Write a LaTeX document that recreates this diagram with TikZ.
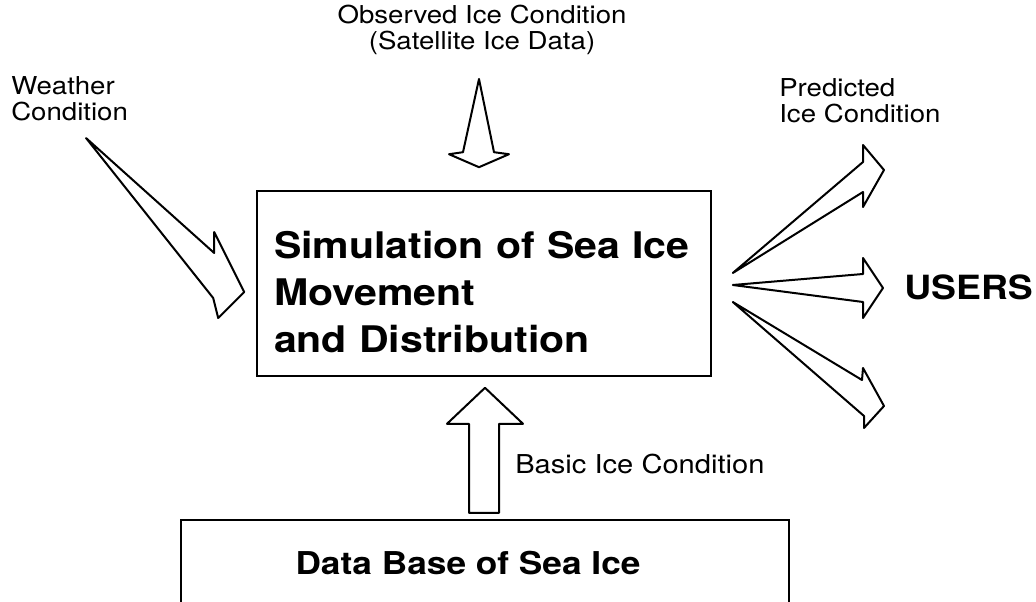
\documentclass[tikz,border=0pt]{standalone}
\usepackage{fontspec}
\setmainfont[FakeStretch=1.12]{TeX Gyre Heros}
\usetikzlibrary{calc}

\begin{document}
\begin{tikzpicture}[x=0.75pt,y=-0.75pt,
  boxline/.style={draw=black,line width=1.2pt},
  fat/.style={draw=black,fill=white,line width=1.5pt,line join=round},
  lbl/.style={inner sep=0pt,font=\fontsize{18.5pt}{19.5pt}\selectfont},
  simbox/.style={boxline,minimum width=340.5pt,minimum height=138.75pt,inner sep=0pt},
  simtext/.style={text width=315pt,align=left,inner sep=0pt,
    font=\fontsize{27.5pt}{35.25pt}\selectfont\bfseries}]
\useasboundingbox (0,0) rectangle (1036,602);

% boxes
\node[simbox] (sim) at (484,283.5) {};
\node[simtext] (simtext) at ($(sim.center)+(0,9)$) {Simulation of Sea Ice\\Movement\\and Distribution};
\draw[boxline] (181,615) |- (789,520) -- (789,615);
\node[inner sep=0pt,font=\fontsize{23.6pt}{28pt}\selectfont\bfseries] (db) at (468,563) {Data Base of Sea Ice};

% labels
\node[lbl,align=center] (obs) at (482,30) {Observed Ice Condition\\(Satellite Ice Data)};
\node[lbl,align=left,anchor=west] (weather) at (11,99) {Weather\\Condition};
\node[lbl,align=left,anchor=west] (pred) at (779,101) {Predicted\\Ice Condition};
\node[lbl,anchor=west,font=\fontsize{19.5pt}{20pt}\selectfont] (basic) at (515,464) {Basic Ice Condition};
\node[inner sep=0pt,anchor=west,font=\fontsize{25pt}{28pt}\selectfont\bfseries] (users) at (904,287) {USERS};

% arrow ends
\coordinate (obstail) at (479,79);
\coordinate (obstip) at ($(sim.north)+(-5,-23)$);
\coordinate (wtail) at (86,138);
\coordinate (wtip) at ($(sim.west)+(-12,8.5)$);
\coordinate (btip) at ($(sim.south)+(1,11)$);
\coordinate (u1tail) at ($(sim.east)+(21,-10.5)$);
\coordinate (u2tail) at ($(sim.east)+(21,1.5)$);
\coordinate (u3tail) at ($(sim.east)+(21,18.5)$);
\coordinate (u1tip) at (884,170);
\coordinate (u2tip) at (883,288);
\coordinate (u3tip) at (884,406);

% observed ice -> simulation
\draw[fat] (obstail) -- ($(obstip)+(-16,-15)$) -- ($(obstip)+(-30,-13)$) -- (obstip)
  -- ($(obstip)+(30,-13)$) -- ($(obstip)+(15,-15)$) -- cycle;
% weather -> simulation
\draw[fat] (wtail) -- ($(wtip)+(-30,-39)$) -- ($(wtip)+(-30,-60)$) -- (wtip)
  -- ($(wtip)+(-26,26)$) -- ($(wtip)+(-31,6)$) -- cycle;
% data base -> simulation
\draw[fat] (btip) -- ($(btip)+(38,36)$) -- ($(btip)+(14,36)$) -- ($(btip)+(14,125)$)
  -- ($(btip)+(-16,125)$) -- ($(btip)+(-16,36)$) -- ($(btip)+(-38,36)$) -- cycle;
% simulation -> users
\draw[fat] (u1tail) -- ($(u1tip)+(-21,-8)$) -- ($(u1tip)+(-21,-25)$) -- (u1tip)
  -- ($(u1tip)+(-21,37)$) -- ($(u1tip)+(-21,22)$) -- cycle;
\draw[fat] (u2tail) -- ($(u2tip)+(-20,-14)$) -- ($(u2tip)+(-20,-30)$) -- (u2tip)
  -- ($(u2tip)+(-20,30)$) -- ($(u2tip)+(-20,14)$) -- cycle;
\draw[fat] (u3tail) -- ($(u3tip)+(-22,-26)$) -- ($(u3tip)+(-21,-38)$) -- (u3tip)
  -- ($(u3tip)+(-20,22)$) -- ($(u3tip)+(-20,10)$) -- cycle;
\end{tikzpicture}
\end{document}
